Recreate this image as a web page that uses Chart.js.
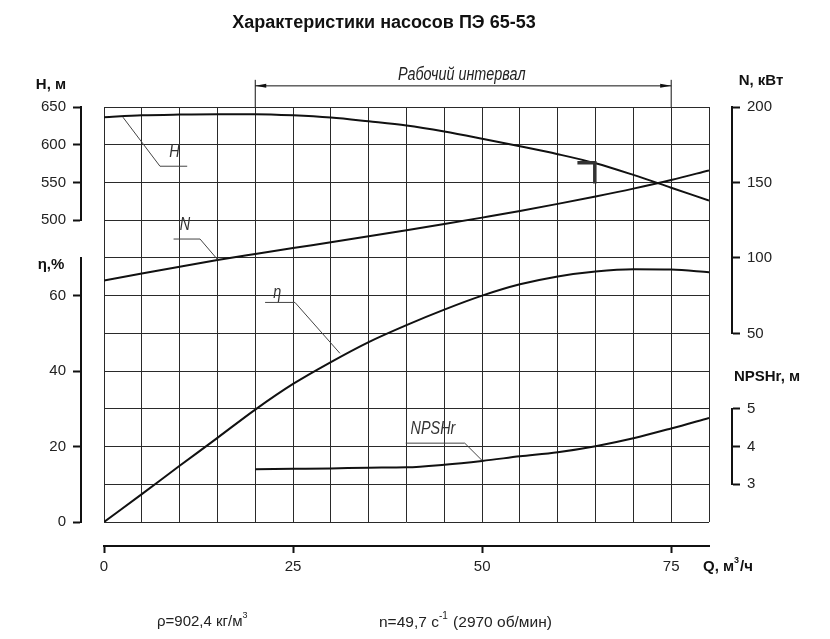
<!DOCTYPE html>
<html>
<head>
<meta charset="utf-8">
<title>Характеристики насосов ПЭ 65-53</title>
<style>
  html, body { margin: 0; padding: 0; background: #fff; }
  #wrap { width: 830px; height: 639px; position: relative; }
</style>
<script src="https://cdn.jsdelivr.net/npm/chart.js@4.4.1/dist/chart.umd.min.js"></script>
</head>
<body>
<div id="wrap"><canvas id="pump"></canvas></div>
<script>
// Q, m3/h
const flowQ = [0, 5, 10, 15, 20, 25, 30, 35, 40, 45, 50, 55, 60, 65, 70, 75, 80];
// H, m
const headH = [636.5, 639, 640, 640.5, 640.5, 639, 636, 631, 625.5, 617.5, 608, 598, 587.5, 575.5, 560, 543, 526];
// N, kW
const powerN = [85, 89.6, 94.2, 98.6, 102.6, 106.5, 110.4, 114.3, 118.3, 122.4, 126.7, 131.1, 135.8, 140.7, 145.9, 151.6, 158];
// efficiency, %
const effEta = [0, 7.4, 14.9, 22.3, 29.8, 36.6, 42.4, 47.7, 52.2, 56.3, 60, 63, 65.1, 66.4, 67, 66.9, 66.2];
// NPSHr, m (given only inside the working range)
const npshFlow = [20, 25, 30, 35, 40, 45, 50, 55, 60, 65, 70, 75, 80];
const npshR = [3.40, 3.41, 3.42, 3.44, 3.45, 3.52, 3.62, 3.74, 3.85, 4.01, 4.22, 4.48, 4.76];

// tick labels
const qTicks = [0, 25, 50, 75];
const hTicks = [500, 550, 600, 650];
const etaTicks = [0, 20, 40, 60];
const nTicks = [50, 100, 150, 200];
const npshTicks = [3, 4, 5];

// working interval
const workRange = [20, 75];

const FONT = "'Liberation Sans', Arial, sans-serif";
const INK = '#111';

const toPoints = (xs, ys) => xs.map((x, i) => ({ x: x, y: ys[i] }));
const fixWidth = w => s => { s.width = w; };
const fixHeight = h => s => { s.height = h; };
const useTicks = list => s => { s.ticks = list.map(v => ({ value: v })); };

const tickFont = { family: FONT, size: 15 };
const axisGrid = { drawOnChartArea: false, tickLength: 8, tickWidth: 2, color: INK };
const axisBorder = { display: true, width: 2, color: INK };
const hidden = { ticks: { display: false }, grid: { display: false }, border: { display: false } };

function axis(pos, stackWeight, weight, min, max, list, width) {
  return {
    type: 'linear', position: pos, stack: pos, stackWeight: stackWeight, weight: weight,
    min: min, max: max, afterBuildTicks: useTicks(list), afterFit: fixWidth(width),
    grid: axisGrid, border: axisBorder,
    ticks: { font: tickFont, color: '#222', padding: 7 }
  };
}
function gap(pos, stackWeight, weight, width) {
  return Object.assign({ type: 'linear', position: pos, stack: pos, stackWeight: stackWeight,
    weight: weight, min: 0, max: 1, afterFit: fixWidth(width) }, hidden);
}

// callouts, in (Q, grid row) units
const callouts = [
  { text: 'H', at: [9.3, 9.8], path: [[2.5, 10.73], [7.4, 9.43], [11, 9.43]] },
  { text: 'N', at: [10.7, 7.87], path: [[9.2, 7.5], [12.7, 7.5], [15, 6.96]] },
  { text: 'η', at: [22.9, 6.08], path: [[21.3, 5.82], [25.25, 5.82], [31.2, 4.47]] },
  { text: 'NPSHr', at: [43.5, 2.46], path: [[39.9, 2.09], [47.7, 2.09], [50, 1.63]] }
];

function richText(ctx, x, y, parts, size, bold) {
  let cx = x;
  parts.forEach(p => {
    const sz = p.sup ? Math.round(size * 0.62) : size;
    ctx.font = (bold ? 'bold ' : '') + sz + 'px ' + FONT;
    ctx.fillText(p.t, cx, p.sup ? y - size * 0.42 : y);
    cx += ctx.measureText(p.t).width + (p.sup ? 1 : 0);
  });
}

// drafting-style condensed italic
function draftText(ctx, text, x, y, size) {
  ctx.save();
  ctx.translate(x, y);
  ctx.scale(0.8, 1);
  ctx.font = 'italic ' + size + 'px ' + FONT;
  ctx.textAlign = 'center';
  ctx.textBaseline = 'middle';
  ctx.fillText(text, 0, 0);
  ctx.restore();
}

const notes = {
  id: 'notes',
  afterDraw(chart) {
    const { ctx, chartArea, scales } = chart;
    const px = q => scales.x.getPixelForValue(q);
    const py = g => scales.yGrid.getPixelForValue(g);
    ctx.save();

    // title
    ctx.fillStyle = INK;
    ctx.font = 'bold 18px ' + FONT;
    ctx.textAlign = 'center'; ctx.textBaseline = 'middle';
    ctx.fillText('Характеристики насосов ПЭ 65-53', 384, 23);

    // working interval
    const xa = px(workRange[0]), xb = px(workRange[1]);
    const yl = py(11.56);
    ctx.strokeStyle = INK; ctx.lineWidth = 1;
    ctx.beginPath();
    ctx.moveTo(xa, chartArea.top); ctx.lineTo(xa, py(11.72));
    ctx.moveTo(xb, chartArea.top); ctx.lineTo(xb, py(11.72));
    ctx.moveTo(xa, yl); ctx.lineTo(xb, yl);
    ctx.stroke();
    ctx.beginPath();
    ctx.moveTo(xa, yl); ctx.lineTo(xa + 11, yl - 2); ctx.lineTo(xa + 11, yl + 2); ctx.closePath();
    ctx.moveTo(xb, yl); ctx.lineTo(xb - 11, yl - 2); ctx.lineTo(xb - 11, yl + 2); ctx.closePath();
    ctx.fill();
    ctx.fillStyle = '#222';
    draftText(ctx, 'Рабочий интервал', px(47.3), py(11.85), 18);

    // callouts
    ctx.strokeStyle = '#444'; ctx.lineWidth = 1;
    ctx.fillStyle = '#333';
    callouts.forEach(c => {
      ctx.beginPath();
      c.path.forEach((p, i) => i ? ctx.lineTo(px(p[0]), py(p[1])) : ctx.moveTo(px(p[0]), py(p[1])));
      ctx.stroke();
      draftText(ctx, c.text, px(c.at[0]), py(c.at[1]), 18);
    });

    // duty point mark
    ctx.strokeStyle = '#333'; ctx.lineWidth = 3.5;
    ctx.beginPath();
    ctx.moveTo(px(62.6), py(9.52)); ctx.lineTo(px(64.9), py(9.52)); ctx.lineTo(px(64.9), py(8.97));
    ctx.stroke();

    // axis titles
    ctx.fillStyle = INK;
    ctx.font = 'bold 15px ' + FONT;
    ctx.textAlign = 'center'; ctx.textBaseline = 'middle';
    ctx.fillText('H, м', 51, 85);
    ctx.fillText('η,%', 51, 265);
    ctx.fillText('N, кВт', 761, 81);
    ctx.fillText('NPSHr, м', 767, 377);
    ctx.textAlign = 'left';
    richText(ctx, 703, 567, [{ t: 'Q, м' }, { t: '3', sup: true }, { t: '/ч' }], 15, true);

    // footnotes
    ctx.fillStyle = '#222';
    richText(ctx, 157, 622, [{ t: 'ρ=902,4 кг/м' }, { t: '3', sup: true }], 15, false);
    richText(ctx, 379, 623, [{ t: 'n=49,7 с' }, { t: '-1', sup: true }, { t: ' (2970 об/мин)' }], 15.5, false);
    ctx.restore();
  }
};

const line = (label, xs, ys, yAxisID) => ({
  label: label, data: toPoints(xs, ys), xAxisID: 'x', yAxisID: yAxisID,
  borderColor: INK, borderWidth: 2, pointRadius: 0,
  cubicInterpolationMode: 'monotone', fill: false
});

new Chart(document.getElementById('pump'), {
  type: 'line',
  data: {
    datasets: [
      line('H', flowQ, headH, 'yH'),
      line('N', flowQ, powerN, 'yN'),
      line('η', flowQ, effEta, 'yEta'),
      line('NPSHr', npshFlow, npshR, 'yNpsh')
    ]
  },
  options: {
    responsive: true,
    maintainAspectRatio: false,
    animation: false,
    events: [],
    layout: { padding: { top: 107 } },
    plugins: {
      legend: { display: false },
      tooltip: { enabled: false },
      title: { display: false }
    },
    scales: {
      x: {
        type: 'linear', position: 'bottom', weight: 1, min: 0, max: 80,
        afterBuildTicks: useTicks(qTicks), afterFit: fixHeight(93),
        grid: { drawOnChartArea: false, tickLength: 7, tickWidth: 2, color: INK },
        border: axisBorder,
        ticks: { font: tickFont, color: '#222', padding: 5, maxRotation: 0 }
      },
      xGrid: {
        type: 'linear', position: 'bottom', weight: 0, min: 0, max: 80,
        afterFit: fixHeight(24),
        ticks: { display: false, stepSize: 5 },
        grid: { drawTicks: false, color: '#2a2a2a', lineWidth: 1 },
        border: { display: false }
      },
      yGrid: {
        type: 'linear', position: 'left', weight: 0, min: 0, max: 11,
        afterFit: fixWidth(23),
        ticks: { display: false, stepSize: 1 },
        grid: { drawTicks: false, color: '#2a2a2a', lineWidth: 1 },
        border: { display: false }
      },
      yH: axis('left', 3, 3, 500, 650, hTicks, 81),
      yGapL: gap('left', 1, 2, 81),
      yEta: axis('left', 7, 1, 0, 70, etaTicks, 81),
      ySpaceR: Object.assign({ type: 'linear', position: 'right', weight: 0, min: 0, max: 1,
        afterFit: fixWidth(23) }, hidden),
      yN: axis('right', 6, 1, 50, 200, nTicks, 98),
      yGapR: gap('right', 2, 2, 98),
      yNpsh: axis('right', 2, 3, 3, 5, npshTicks, 98),
      yGapR2: gap('right', 1, 4, 98)
    }
  },
  plugins: [notes]
});
</script>
</body>
</html>
